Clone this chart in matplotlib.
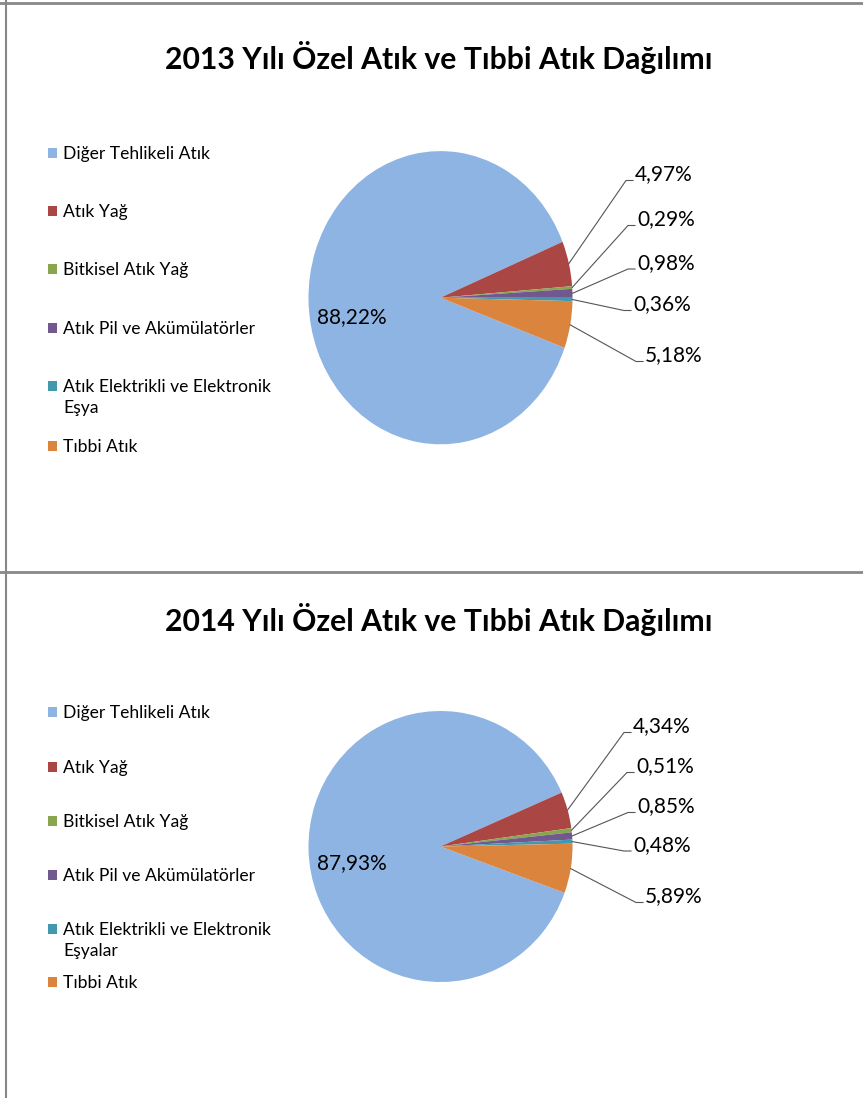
import matplotlib
matplotlib.use("Agg")

import matplotlib.pyplot as plt
from matplotlib.lines import Line2D
from matplotlib.patches import Rectangle
import numpy as np

plt.rcParams['font.family'] = ['Lato', 'DejaVu Sans']

# veriler
kategoriler_2013 = ["Diğer Tehlikeli Atık", "Atık Yağ", "Bitkisel Atık Yağ",
                    "Atık Pil ve Akümülatörler",
                    "Atık Elektrikli ve Elektronik\nEşya", "Tıbbi Atık"]
kategoriler_2014 = ["Diğer Tehlikeli Atık", "Atık Yağ", "Bitkisel Atık Yağ",
                    "Atık Pil ve Akümülatörler",
                    "Atık Elektrikli ve Elektronik\nEşyalar", "Tıbbi Atık"]
oran_2013 = [88.22, 4.97, 0.29, 0.98, 0.36, 5.18]
oran_2014 = [87.93, 4.34, 0.51, 0.85, 0.48, 5.89]
basliklar = ["2013 Yılı Özel Atık ve Tıbbi Atık Dağılımı",
             "2014 Yılı Özel Atık ve Tıbbi Atık Dağılımı"]

renkler = ['#8EB4E3', '#AA4643', '#89A54E', '#71588F', '#4198AF', '#DB843D']

W, H = 863, 1098
fig = plt.figure(figsize=(W / 100, H / 100), dpi=100)


def fx(x):
    return x / W


def fy(y):
    return 1 - y / H


def yuzde(v):
    return f"{v:.2f}".replace('.', ',') + '%'


# panel yerlesimi (piksel)
paneller = [
    dict(baslik_y=57, cx=440.5, cy=297.7, rx=132, ry=146.6,
         lejant_y=[153, 211, 269, 328, 386, 446],
         ic_etiket=(352, 317),
         etiket_xy=[(635, 174.5), (637, 219.5), (637, 263), (633, 304.5), (645, 355.5)]),
    dict(baslik_y=620, cx=440.5, cy=846.5, rx=132, ry=135.5,
         lejant_y=[712, 767, 821, 875, 929, 982],
         ic_etiket=(352, 863),
         etiket_xy=[(633, 726.5), (636, 766.5), (637, 806.5), (633, 845), (645, 896.5)]),
]

etiket_boyut = 15
lejant_boyut = 12.6

for p, oranlar, kategoriler, baslik in zip(paneller, [oran_2013, oran_2014],
                                           [kategoriler_2013, kategoriler_2014], basliklar):
    fig.text(fx(438.5), fy(p['baslik_y']), baslik, ha='center', va='center',
             fontsize=21.7, fontweight='bold', color='black')

    ax = fig.add_axes([fx(p['cx'] - p['rx']), fy(p['cy'] + p['ry']),
                       2 * p['rx'] / W, 2 * p['ry'] / H])
    wedges, _ = ax.pie(oranlar, colors=renkler, startangle=-20, counterclock=False,
                       wedgeprops=dict(linewidth=0))
    ax.set_xlim(-1, 1)
    ax.set_ylim(-1, 1)
    ax.set_aspect('auto')
    ax.axis('off')

    # buyuk dilim etiketi
    fig.text(fx(p['ic_etiket'][0]), fy(p['ic_etiket'][1]), yuzde(oranlar[0]),
             ha='center', va='center', fontsize=etiket_boyut)

    # kucuk dilimler: dis etiket + kilavuz cizgi
    inv = fig.transFigure.inverted()
    for w, v, (tx, ty) in zip(wedges[1:], oranlar[1:], p['etiket_xy']):
        aci = np.deg2rad((w.theta1 + w.theta2) / 2)
        bx, by = inv.transform(ax.transData.transform((np.cos(aci), np.sin(aci))))
        ly = ty + 6
        fig.add_artist(Line2D([bx, fx(tx - 9), fx(tx - 2)], [by, fy(ly), fy(ly)],
                              transform=fig.transFigure, color='#555555', linewidth=0.8))
        fig.text(fx(tx), fy(ty), yuzde(v), ha='left', va='center', fontsize=etiket_boyut)

    # lejant
    for renk, ad, ly in zip(renkler, kategoriler, p['lejant_y']):
        fig.add_artist(Rectangle((fx(47.5), fy(ly + 4.5)), 9.5 / W, 9.5 / H,
                                 transform=fig.transFigure, facecolor=renk, edgecolor='none'))
        for i, satir in enumerate(ad.split('\n')):
            fig.text(fx(63), fy(ly + 6 + 21 * i), satir, ha='left', va='baseline',
                     fontsize=lejant_boyut)

# cerceve cizgileri
cerceve = '#888888'
fig.add_artist(Line2D([0, 1], [fy(2.5), fy(2.5)], transform=fig.transFigure,
                      color=cerceve, linewidth=2))
fig.add_artist(Line2D([0, 1], [fy(572), fy(572)], transform=fig.transFigure,
                      color=cerceve, linewidth=2))
fig.add_artist(Line2D([fx(5.5), fx(5.5)], [0, 1], transform=fig.transFigure,
                      color=cerceve, linewidth=1.5))

fig.savefig('out.png', dpi=100)
